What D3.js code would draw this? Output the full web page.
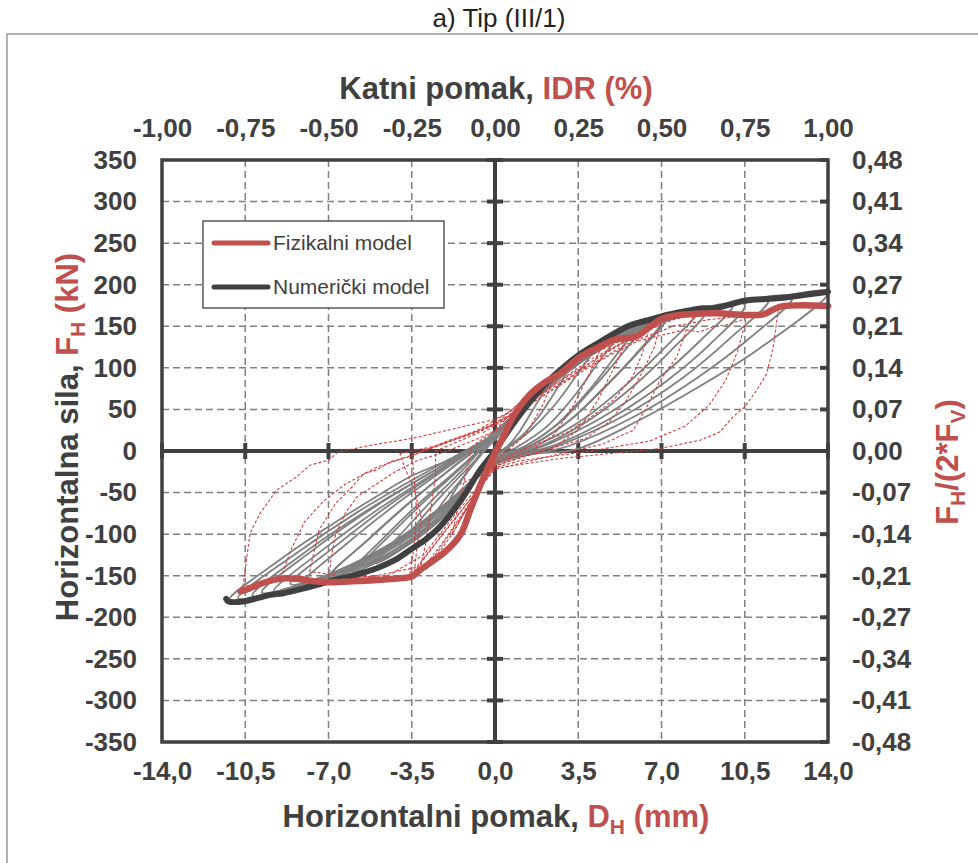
<!DOCTYPE html>
<html><head><meta charset="utf-8">
<script src="https://cdn.jsdelivr.net/npm/d3@7"></script>
<style>body{margin:0;background:#fff}svg{display:block}text{font-family:"Liberation Sans",Arial,sans-serif}</style>
</head><body><svg id="c" width="978" height="863"></svg>
<script>
// ---- tick values / labels ----
const xTicks = [-14, -10.5, -7, -3.5, 0, 3.5, 7, 10.5, 14];
const xTickLabels = ["-14,0", "-10,5", "-7,0", "-3,5", "0,0", "3,5", "7,0", "10,5", "14,0"];
const idrTicks = [-1, -0.75, -0.5, -0.25, 0, 0.25, 0.5, 0.75, 1];
const idrTickLabels = ["-1,00", "-0,75", "-0,50", "-0,25", "0,00", "0,25", "0,50", "0,75", "1,00"];
const yTicks = [350, 300, 250, 200, 150, 100, 50, 0, -50, -100, -150, -200, -250, -300, -350];
const ratioTickLabels = ["0,48", "0,41", "0,34", "0,27", "0,21", "0,14", "0,07", "0,00", "-0,07", "-0,14", "-0,21", "-0,27", "-0,34", "-0,41", "-0,48"];

// ---- envelopes [D_H mm, F_H kN] ----
const numericalEnvelope = [[-11.3,-178],[-11.2,-181],[-10.6,-181],[-10.0,-177],[-9.46,-173],[-8.9,-171],[-8.0,-165],[-7.0,-157],[-6.0,-150],[-4.97,-141],[-4.2,-131],[-3.57,-119],[-2.9,-106],[-2.45,-95],[-1.9,-77],[-1.33,-55],[-0.63,-23],[0,0],[0.5,22],[1.0,42],[1.5,60],[2.17,82],[2.73,97],[3.5,115],[4.41,131],[5.54,149.5],[6.38,157],[7.0,162],[8.0,168],[8.76,171.6],[9.3,172],[10.5,180.8],[11.84,183.6],[14.0,191.6]];
const physicalEnvelope = [[-10.7,-169],[-10.3,-165],[-9.88,-160],[-9.3,-155],[-8.8,-153],[-8.2,-154],[-7.5,-157],[-7.0,-158],[-5.5,-156],[-4.0,-153],[-3.5,-151],[-3.15,-143],[-2.6,-132],[-2.17,-123],[-1.7,-110],[-1.4,-98],[-1.0,-68],[-0.5,-33],[0,-2],[0.4,20],[0.8,43],[1.47,68],[2.17,84],[2.73,93],[3.57,113],[4.55,127.5],[4.97,133.5],[5.96,138],[6.52,149.5],[7.08,159.6],[8.34,164.8],[9.32,165.6],[10.58,163.6],[11.28,164.4],[12.0,173.6],[14.0,174.4]];

// ---- numerical model cycles (grey) ----
const numericalCycles = [
 [[-0.3,5],[0.5,28],[1.2,52],[2.2,80],[1.6,50],[1.0,22],[0.5,5],[0,-5],[-0.8,-30],[-1.4,-48],[-2.0,-65],[-1.4,-35],[-0.8,-12],[-0.3,5]],
 [[-0.3,8],[0.8,40],[1.8,72],[2.6,92],[3.2,105],[2.5,70],[1.8,40],[1.0,15],[0.4,3],[-0.5,-20],[-1.3,-50],[-2.2,-78],[-3.0,-98],[-2.2,-62],[-1.3,-30],[-0.3,8]],
 [[-0.3,10],[1.0,48],[2.0,80],[3.0,104],[4.2,125],[3.4,90],[2.5,55],[1.5,25],[0.6,5],[-0.5,-22],[-1.5,-58],[-2.8,-92],[-4.0,-115],[-3.0,-78],[-1.8,-40],[-0.8,-10],[-0.3,10]],
 [[-0.3,12],[1.2,55],[2.5,92],[3.8,122],[5.2,142],[4.3,105],[3.3,65],[2.2,30],[1.0,6],[0,-10],[-1.0,-40],[-2.2,-80],[-3.6,-112],[-5.0,-135],[-3.8,-95],[-2.5,-55],[-1.2,-18],[-0.3,12]],
 [[-0.3,11],[1.3,56],[2.7,95],[4.2,126],[5.8,146],[4.9,108],[3.8,68],[2.6,32],[1.3,6],[0,-11],[-1.1,-42],[-2.4,-84],[-3.9,-117],[-5.6,-138],[-4.3,-98],[-2.8,-56],[-1.3,-17],[-0.3,11]],
 [[-0.3,12],[1.3,58],[2.8,98],[4.5,132],[6.2,152],[5.2,112],[4.0,72],[2.8,36],[1.4,8],[0,-12],[-1.2,-45],[-2.6,-88],[-4.2,-122],[-6.0,-145],[-4.6,-102],[-3.0,-58],[-1.4,-18],[-0.3,12]],
 [[-0.3,12],[1.4,58],[3.0,100],[4.9,134],[7.0,156],[5.9,116],[4.5,74],[3.1,36],[1.6,8],[0,-13],[-1.3,-48],[-2.9,-92],[-4.8,-128],[-6.8,-146],[-5.3,-106],[-3.5,-60],[-1.7,-18],[-0.3,12]],
 [[-0.3,13],[1.5,62],[3.2,106],[5.0,140],[7.2,160],[6.0,118],[4.6,76],[3.2,38],[1.7,9],[0,-14],[-1.4,-50],[-3.0,-95],[-5.0,-132],[-7.0,-152],[-5.4,-108],[-3.6,-62],[-1.8,-20],[-0.3,13]],
 [[-0.3,14],[1.6,64],[3.5,110],[5.8,148],[8.5,168],[7.2,126],[5.6,82],[3.8,40],[2.0,10],[0,-15],[-1.6,-55],[-3.4,-100],[-5.8,-140],[-8.2,-162],[-6.3,-113],[-4.2,-65],[-2.0,-20],[-0.3,14]],
 [[-0.3,13],[1.7,64],[3.7,112],[6.0,148],[8.8,166],[7.5,124],[5.9,80],[4.0,38],[2.1,8],[0,-14],[-1.7,-56],[-3.6,-102],[-6.0,-140],[-8.6,-160],[-6.6,-112],[-4.4,-64],[-2.1,-20],[-0.3,13]],
 [[-0.3,15],[1.8,68],[4.0,118],[6.8,155],[10.0,176],[8.6,132],[6.8,86],[4.6,42],[2.4,10],[0,-16],[-1.8,-58],[-3.8,-105],[-6.5,-146],[-9.3,-169],[-7.2,-118],[-4.8,-68],[-2.3,-22],[-0.3,15]],
 [[-0.3,14],[1.9,70],[4.2,120],[7.2,158],[10.5,176],[9.1,130],[7.2,84],[4.9,40],[2.6,8],[0,-15],[-1.9,-60],[-4.0,-107],[-6.8,-147],[-9.8,-170],[-7.6,-118],[-5.0,-66],[-2.4,-21],[-0.3,14]],
 [[-0.3,15],[2.0,72],[4.5,125],[7.8,162],[11.5,182],[9.9,136],[7.9,88],[5.4,42],[2.8,8],[0,-16],[-2.0,-62],[-4.2,-110],[-7.0,-150],[-10.2,-174],[-8.0,-122],[-5.3,-70],[-2.6,-24],[-0.3,15]],
 [[-0.3,15],[2.1,74],[4.8,128],[8.2,165],[12.5,185],[10.8,138],[8.6,90],[5.9,42],[3.1,6],[0,-16],[-2.1,-64],[-4.4,-112],[-7.3,-152],[-10.8,-177],[-8.5,-126],[-5.7,-72],[-2.8,-24],[-0.3,15]],
 [[-0.3,16],[2.2,76],[5.0,132],[8.5,168],[11.5,183],[14.0,191],[11.1,123],[8.5,76],[6.0,36],[3.4,2],[1.5,-4],[0,-16],[-2.2,-66],[-4.6,-115],[-7.6,-155],[-11.2,-180],[-9.0,-130],[-7.0,-91],[-5.0,-55],[-3.57,-31],[-1.5,-5],[-0.3,16]]
];

// ---- physical model cycles (red dashed) ----
const physicalCycles = [
 [[-1.0,5],[0,25],[1.0,55],[2.5,90],[2.0,55],[1.3,20],[0.5,0],[0,-12],[-0.8,-50],[-1.8,-100],[-1.5,-60],[-1.2,-25],[-1.0,5]],
 [[-2.5,0],[-1.0,18],[0,32],[1.5,70],[3.0,105],[4.5,127],[4.0,95],[3.3,55],[2.5,20],[1.5,0],[0,-15],[-1.0,-60],[-2.2,-110],[-3.2,-148],[-2.9,-110],[-2.7,-70],[-2.5,-30],[-2.5,0]],
 [[-3.5,-5],[-2.2,8],[-0.8,24],[0.5,45],[2.0,80],[3.5,108],[5.6,137],[5.0,100],[4.3,60],[3.5,25],[2.5,5],[1.0,-8],[0,-18],[-1.2,-70],[-2.5,-125],[-3.6,-152],[-3.4,-115],[-3.3,-70],[-3.4,-30],[-3.5,-5]],
 [[-4.0,-3],[-2.5,6],[-1.0,20],[0.5,40],[1.8,62],[3.0,85],[4.2,110],[5.2,128],[6.5,149],[6.2,118],[5.8,90],[5.0,62],[4.0,40],[3.0,22],[1.5,6],[0,-14],[-0.8,-50],[-1.8,-100],[-2.8,-140],[-3.4,-150],[-3.3,-120],[-3.1,-80],[-3.4,-45],[-3.8,-20],[-4.0,-3]],
 [[-7.8,-145],[-7.4,-95],[-6.7,-63],[-6.0,-43],[-5.5,-27],[-5.0,-23],[-4.4,-13],[-3.6,-7],[-2.2,9],[-0.6,25],[0.8,45],[2.5,80],[4.5,115],[6.0,140],[7.0,158],[6.7,125],[6.2,95],[5.5,60],[4.8,35],[3.8,15],[2.0,0],[0,-18],[-1.5,-70],[-3.0,-125],[-4.5,-150],[-6.0,-152],[-7.8,-145]],
 [[-7.0,-158],[-6.9,-130],[-6.7,-100],[-6.3,-75],[-5.8,-55],[-5.0,-40],[-4.2,-25],[-3.3,-12],[-2.0,0],[-0.8,14],[0.5,30]],
 [[-9.0,-153],[-8.6,-120],[-8.0,-85],[-7.2,-60],[-6.3,-40],[-5.0,-20],[-3.5,-5],[-2.0,12],[0,32],[2.0,70],[4.0,110],[6.0,140],[7.5,158],[8.4,164],[8.1,150],[7.64,113],[6.94,85],[6.38,53],[5.81,25],[4.5,8],[2.5,-5],[0,-22],[-1.8,-85],[-3.3,-140],[-5.0,-150],[-7.0,-155],[-9.0,-153]],
 [[-0.5,22],[1.0,48],[2.5,75],[3.8,98],[5.0,118],[6.0,132],[6.8,138],[7.4,142],[8.0,146],[8.6,143],[9.2,150],[9.8,152],[10.4,158],[10.6,163]],
 [[-10.6,-163],[-10.3,-99],[-9.88,-75],[-9.18,-47],[-8.34,-31],[-7.78,-17],[-7.0,-11],[-6.59,-1],[-5.0,8],[-3.5,15],[-2.0,25],[0,38],[1.5,60],[3.5,95],[5.5,128],[7.5,150],[9.0,158],[10.6,163],[10.2,120],[9.7,85],[9.0,55],[8.0,30],[6.5,12],[4.0,0],[1.0,-12],[0,-20],[-1.5,-75],[-3.0,-130],[-3.5,-150],[-7.0,-158],[-9.0,-155],[-10.6,-163]],
 [[-1.5,-40],[0,-21],[2.73,-9],[6.94,3],[8.62,13],[9.46,23],[10.0,41],[10.5,53],[11.0,73],[11.42,93],[11.7,125],[11.91,170],[12.0,173]]
];

// ---- drawing ----
const svg = d3.select("#c");
const dark = "#404040", red = "#C0504D", grey = "#808080";
const L = 162, R = 828, T = 160, B = 742;
const x = d3.scaleLinear().domain([-14, 14]).range([L, R]);
const xTop = d3.scaleLinear().domain([-1, 1]).range([L, R]);
const y = d3.scaleLinear().domain([-350, 350]).range([B, T]);

// outer frame
svg.append("rect").attr("x", 7).attr("y", 34).attr("width", 1000).attr("height", 900)
  .attr("fill", "none").attr("stroke", "#8a8a8a").attr("stroke-width", 1.3);

// chart title
svg.append("text").attr("x", 499).attr("y", 27).attr("text-anchor", "middle")
  .attr("font-size", 26).attr("fill", "#222").text("a) Tip (III/1)");

// gridlines
const grid = svg.append("g").attr("stroke", grey).attr("stroke-width", 1.5).attr("stroke-dasharray", "7,4");
xTicks.slice(1, -1).forEach(v => grid.append("line").attr("x1", x(v)).attr("x2", x(v)).attr("y1", T).attr("y2", B));
yTicks.slice(1, -1).forEach(v => grid.append("line").attr("x1", L).attr("x2", R).attr("y1", y(v)).attr("y2", y(v)));

// right border inward ticks
yTicks.forEach(v => svg.append("line").attr("x1", R).attr("x2", R - 8).attr("y1", y(v)).attr("y2", y(v))
  .attr("stroke", dark).attr("stroke-width", 4));

// zero axes
svg.append("line").attr("x1", L).attr("x2", R).attr("y1", y(0)).attr("y2", y(0)).attr("stroke", dark).attr("stroke-width", 4);
svg.append("line").attr("x1", x(0)).attr("x2", x(0)).attr("y1", T).attr("y2", B).attr("stroke", dark).attr("stroke-width", 4);
xTicks.forEach(v => svg.append("line").attr("x1", x(v)).attr("x2", x(v)).attr("y1", y(0) - 8).attr("y2", y(0) + 8)
  .attr("stroke", dark).attr("stroke-width", 4));
yTicks.forEach(v => svg.append("line").attr("x1", x(0) - 8).attr("x2", x(0) + 8).attr("y1", y(v)).attr("y2", y(v))
  .attr("stroke", dark).attr("stroke-width", 4));

// data lines
const lineSmooth = d3.line().x(d => x(d[0])).y(d => y(d[1])).curve(d3.curveCatmullRom.alpha(0.5));
const lineJag = d3.line().x(d => x(d[0])).y(d => y(d[1]));
const dataG = svg.append("g");
numericalCycles.forEach(c => dataG.append("path").attr("d", lineSmooth(c)).attr("fill", "none")
  .attr("stroke", grey).attr("stroke-width", 1.8));
physicalCycles.forEach(c => dataG.append("path").attr("d", lineJag(c)).attr("fill", "none")
  .attr("stroke", "#d04040").attr("stroke-width", 1.1).attr("stroke-dasharray", "3,2"));
dataG.append("path").attr("d", lineSmooth(numericalEnvelope)).attr("fill", "none")
  .attr("stroke", dark).attr("stroke-width", 6).attr("stroke-linecap", "round").attr("stroke-linejoin", "round");
dataG.append("path").attr("d", lineSmooth(physicalEnvelope)).attr("fill", "none")
  .attr("stroke", red).attr("stroke-width", 6.5).attr("stroke-linecap", "round").attr("stroke-linejoin", "round");

// plot border
svg.append("rect").attr("x", L).attr("y", T).attr("width", R - L).attr("height", B - T)
  .attr("fill", "none").attr("stroke", dark).attr("stroke-width", 3.5);

// axes labels via d3 axes
const tickFont = 26;
const axB = svg.append("g").attr("transform", `translate(0,${B + 17})`)
  .call(d3.axisBottom(x).tickValues(xTicks).tickFormat((d, i) => xTickLabels[i]).tickSize(0));
const axT = svg.append("g").attr("transform", `translate(0,${T - 20})`)
  .call(d3.axisTop(xTop).tickValues(idrTicks).tickFormat((d, i) => idrTickLabels[i]).tickSize(0));
const axL = svg.append("g").attr("transform", `translate(${L - 22},0)`)
  .call(d3.axisLeft(y).tickValues(yTicks).tickFormat((d, i) => String(yTicks[i])).tickSize(0));
const axR = svg.append("g").attr("transform", `translate(${R + 21},0)`)
  .call(d3.axisRight(y).tickValues(yTicks).tickFormat((d, i) => ratioTickLabels[i]).tickSize(0));
[axB, axT, axL, axR].forEach(g => {
  g.select(".domain").remove();
  g.selectAll("text").attr("font-size", tickFont).attr("font-weight", "bold").attr("fill", dark)
    .attr("font-family", '"Liberation Sans",Arial,sans-serif');
});

// axis titles
const tsz = 31;
const topTitle = svg.append("text").attr("x", 496).attr("y", 99).attr("text-anchor", "middle")
  .attr("font-size", tsz).attr("font-weight", "bold").attr("fill", dark);
topTitle.append("tspan").text("Katni pomak, ");
topTitle.append("tspan").attr("fill", red).text("IDR (%)");

const botTitle = svg.append("text").attr("x", 496).attr("y", 827).attr("text-anchor", "middle")
  .attr("font-size", tsz).attr("font-weight", "bold").attr("fill", dark);
botTitle.append("tspan").text("Horizontalni pomak, ");
botTitle.append("tspan").attr("fill", red).text("D");
botTitle.append("tspan").attr("fill", red).attr("font-size", 21).attr("dy", 7).text("H");
botTitle.append("tspan").attr("fill", red).attr("dy", -7).text(" (mm)");

const leftTitle = svg.append("text").attr("transform", "translate(78,437) rotate(-90)").attr("text-anchor", "middle")
  .attr("font-size", tsz).attr("font-weight", "bold").attr("fill", dark);
leftTitle.append("tspan").text("Horizontalna sila, ");
leftTitle.append("tspan").attr("fill", red).text("F");
leftTitle.append("tspan").attr("fill", red).attr("font-size", 21).attr("dy", 7).text("H");
leftTitle.append("tspan").attr("fill", red).attr("dy", -7).text(" (kN)");

const rightTitle = svg.append("text").attr("transform", "translate(958,462) rotate(-90)").attr("text-anchor", "middle")
  .attr("font-size", tsz).attr("font-weight", "bold").attr("fill", red);
rightTitle.append("tspan").text("F");
rightTitle.append("tspan").attr("font-size", 21).attr("dy", 7).text("H");
rightTitle.append("tspan").attr("dy", -7).text("/(2*F");
rightTitle.append("tspan").attr("font-size", 21).attr("dy", 7).text("V");
rightTitle.append("tspan").attr("dy", -7).text(")");

// legend
const leg = svg.append("g");
leg.append("rect").attr("x", 203).attr("y", 221).attr("width", 241).attr("height", 87)
  .attr("fill", "#fff").attr("stroke", dark).attr("stroke-width", 1.3);
const legendItems = [["Fizikalni model", red, 243], ["Numerički model", dark, 287]];
legendItems.forEach(([t, c, yy]) => {
  leg.append("line").attr("x1", 214).attr("x2", 268).attr("y1", yy).attr("y2", yy)
    .attr("stroke", c).attr("stroke-width", 5).attr("stroke-linecap", "round");
  leg.append("text").attr("x", 273).attr("y", yy).attr("dy", "0.35em").attr("font-size", 21)
    .attr("fill", dark).text(t);
});
</script></body></html>
